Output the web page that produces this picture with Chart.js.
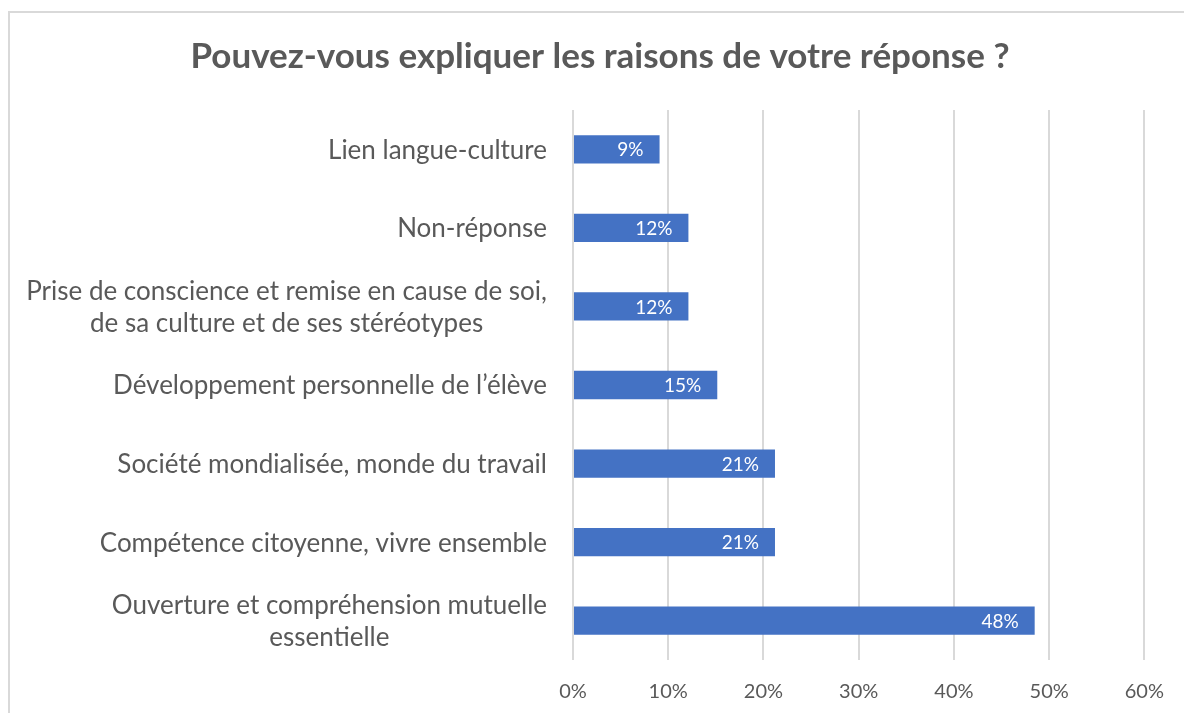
<!DOCTYPE html>
<html>
<head>
<meta charset="utf-8">
<script src="https://cdn.jsdelivr.net/npm/chart.js@4/dist/chart.umd.min.js"></script>
<style>
  body { margin: 0; background: #fff; overflow: hidden; }
  #frame { position: absolute; left: 8px; top: 11px; width: 1200px; height: 720px; border: 2px solid #d9d9d9; }
  #chart { position: absolute; left: 0; top: 0; }
</style>
</head>
<body>
<div id="frame"></div>
<canvas id="chart" width="1184" height="713"></canvas>
<script>
// answers counted on 33 respondents, shown as percentages
const categories = [
  "Lien langue-culture",
  "Non-réponse",
  ["Prise de conscience et remise en cause de soi,", "de sa culture et de ses stéréotypes"],
  "Développement personnelle de l’élève",
  "Société mondialisée, monde du travail",
  "Compétence citoyenne, vivre ensemble",
  ["Ouverture et compréhension mutuelle", "essentielle"]
];
const values = [9.09, 12.12, 12.12, 15.15, 21.21, 21.21, 48.48];
const xTicks = [0, 10, 20, 30, 40, 50, 60];

const textGrey = "#595959";
const fontFamily = "Lato, 'Open Sans', sans-serif";
const labelFont = "26px " + fontFamily;

// y labels: each line centered on the longest one, right edge at the axis
const centeredLabels = {
  id: "centeredLabels",
  afterDraw(chart) {
    const ctx = chart.ctx;
    const y = chart.scales.y;
    ctx.save();
    ctx.font = labelFont;
    ctx.fillStyle = textGrey;
    ctx.textAlign = "center";
    ctx.textBaseline = "middle";
    const right = y.right - 26;
    categories.forEach((lab, i) => {
      const lines = Array.isArray(lab) ? lab : [lab];
      const w = Math.max(...lines.map(l => ctx.measureText(l).width));
      const cx = right - w / 2;
      const cy = y.getPixelForTick(i) + 1;
      const lh = 32;
      lines.forEach((l, j) => {
        ctx.fillText(l, cx, cy + (j - (lines.length - 1) / 2) * lh);
      });
    });
    ctx.restore();
  }
};

// value labels inside the end of each bar
const barValues = {
  id: "barValues",
  afterDatasetsDraw(chart) {
    const ctx = chart.ctx;
    ctx.save();
    ctx.font = "19px " + fontFamily;
    ctx.fillStyle = "#ffffff";
    ctx.textAlign = "right";
    ctx.textBaseline = "middle";
    chart.getDatasetMeta(0).data.forEach((bar, i) => {
      ctx.fillText(Math.round(values[i]) + "%", bar.x - 16, bar.y + 1);
    });
    ctx.restore();
  }
};

new Chart(document.getElementById("chart"), {
  type: "bar",
  data: {
    labels: categories,
    datasets: [{
      data: values,
      backgroundColor: "#4472c4",
      barPercentage: 0.36,
      categoryPercentage: 1
    }]
  },
  options: {
    indexAxis: "y",
    responsive: false,
    animation: false,
    layout: { padding: { left: 54, right: 38, top: 0, bottom: 0 } },
    plugins: {
      legend: { display: false },
      tooltip: { enabled: false },
      title: {
        display: true,
        text: "Pouvez-vous expliquer les raisons de votre réponse ?",
        color: textGrey,
        font: { family: fontFamily, size: 35, weight: "bold" },
        padding: { top: 36, bottom: 32 }
      }
    },
    scales: {
      x: {
        min: 0,
        max: 60,
        afterBuildTicks: s => { s.ticks = xTicks.map(v => ({ value: v })); },
        grid: { color: "#d9d9d9", lineWidth: 2, drawTicks: false },
        border: { display: false },
        ticks: {
          color: textGrey,
          font: { family: fontFamily, size: 20 },
          padding: 20,
          callback: v => v + "%"
        },
        afterFit: s => { s.height = 53; }
      },
      y: {
        grid: { display: false },
        border: { display: false },
        ticks: { color: "rgba(0,0,0,0)", font: { size: 22 } },
        afterFit: s => { s.width = 519; }
      }
    }
  },
  plugins: [centeredLabels, barValues]
});
</script>
</body>
</html>
